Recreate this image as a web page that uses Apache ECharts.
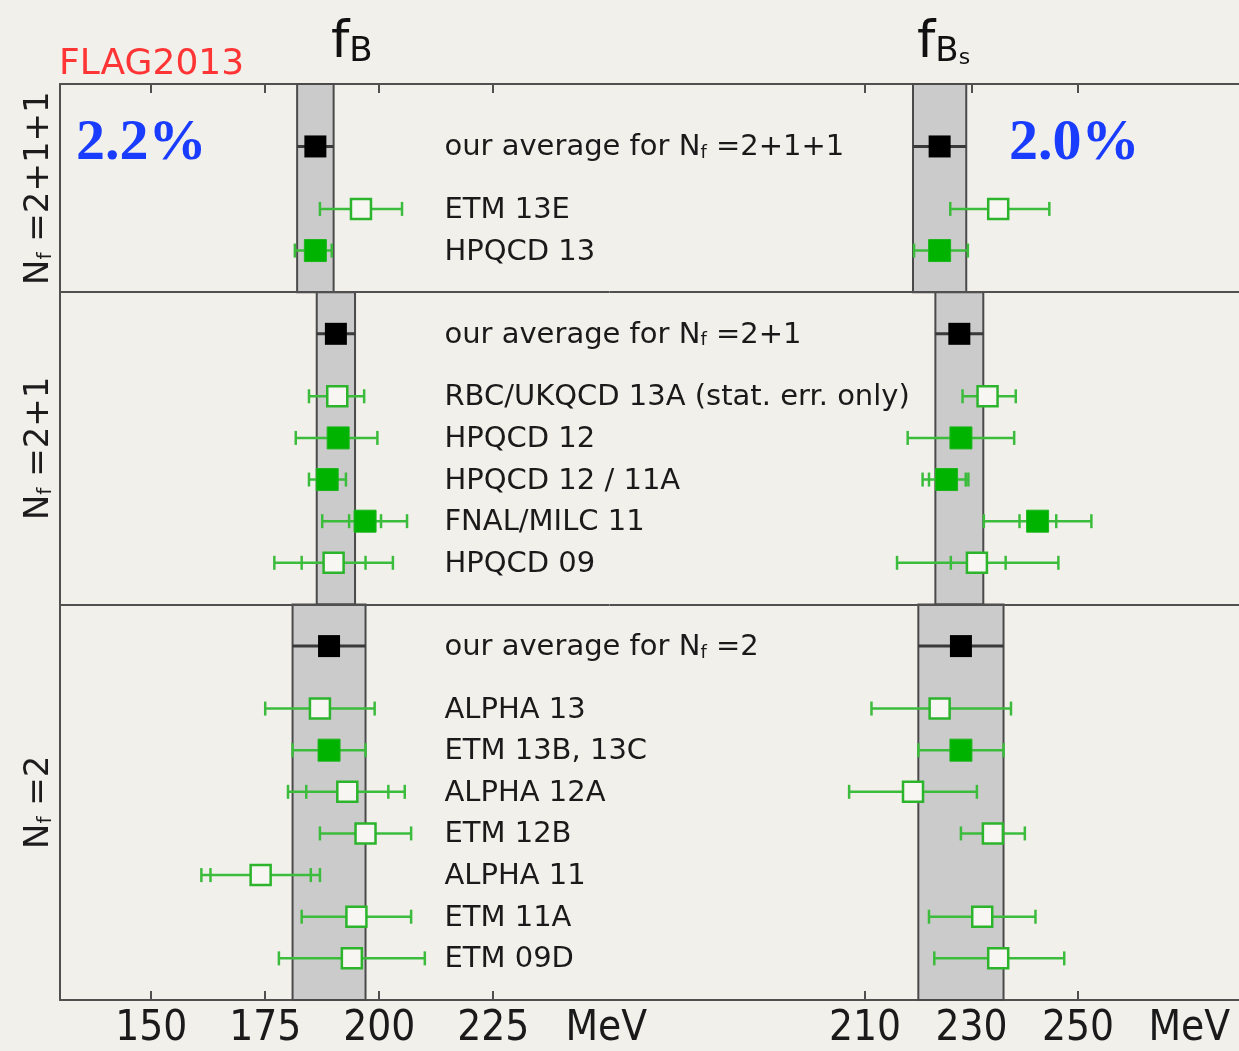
<!DOCTYPE html>
<html><head><meta charset="utf-8">
<script src="https://cdn.jsdelivr.net/npm/echarts@6/dist/echarts.min.js"></script>
<style>html,body{margin:0;padding:0;background:#f2f0eb}#c{width:1239px;height:1051px}</style>
</head><body><div id="c"></div>
<script>
// ---------- data ----------
const sectionLabels = ['N_f =2+1+1', 'N_f =2+1', 'N_f =2'];
const rowSection = [0,0,0, 1,1,1,1,1,1, 2,2,2,2,2,2,2,2];
const rowNames = ['our average for N_f =2+1+1','ETM 13E','HPQCD 13',
  'our average for N_f =2+1','RBC/UKQCD 13A (stat. err. only)','HPQCD 12','HPQCD 12 / 11A','FNAL/MILC 11','HPQCD 09',
  'our average for N_f =2','ALPHA 13','ETM 13B, 13C','ALPHA 12A','ETM 12B','ALPHA 11','ETM 11A','ETM 09D'];
// 0 = average, 1 = filled (used in average), 2 = open
const rowKind = [0,2,1, 0,2,1,1,1,2, 0,2,1,2,2,2,2,2];

const fB       = [186,196,186,   190.5,190.8,191,188.6,196.9,190,   189,187,189,193,197,174,195,194];
const fBLow    = [182,187,181.5, 186.3,184.6,181.7,184.6,187.5,177, 181,175,181,180,187,161,183,178];
const fBHigh   = [190,205,189.6, 194.7,196.7,199.6,192.7,206.1,203, 197,199,197,205.6,207,187,207,210];
const fBStatLow  = [null,null,null, null,null,null,null,193.4,183, null,null,null,184,null,163,null,null];
const fBStatHigh = [null,null,null, null,null,null,null,200.4,197, null,null,null,202,null,185,null,null];

const fBs      = [224,235,224,   227.7,233,228,225.3,242.4,231,   228,224,228,219,234,null,232,235];
const fBsLow   = [219,226,219.2, 223.2,228.3,218,220.8,232.3,216, 220,211.2,220,207,228,null,222,223];
const fBsHigh  = [229,244.6,229.3, 232.2,238.3,238,229.4,252.5,246.3, 236,237.4,236,231,240,null,242,247.4];
const fBsStatLow  = [null,null,null, null,null,null,222,239,226.1, null,null,null,null,null,null,null,null];
const fBsStatHigh = [null,null,null, null,null,null,228.9,245.9,236.4, null,null,null,null,null,null,null,null];

const fBTicks = [150,175,200,225];
const fBsTicks = [210,230,250];
const unitText = 'MeV';

// ---------- layout of rows (row units, top = 0) ----------
const rowY = [];
const sectionBounds = [];
let pos = 0, cur = -1, secStart = 0;
for (let i = 0; i < rowNames.length; i++) {
  if (rowSection[i] !== cur) {
    if (cur >= 0) sectionBounds.push([secStart, pos]);
    cur = rowSection[i]; secStart = pos;
    pos += (cur === 0 ? 1.5 : 1);
    rowY.push(pos); pos += 1.5;
  } else {
    rowY.push(pos); pos += 1;
  }
}
sectionBounds.push([secStart, pos]);
const yMax = pos;

const BG = '#f2f0eb';
const FRAME = '#505050';
const TXT = '#1a1a1a';

function makeRender(statLo, statHi) {
  return function (params, api) {
    const idx = api.value(4);
    const y = api.value(3);
    const c = api.coord([api.value(0), y]);
    const pl = api.coord([api.value(1), y]);
    const ph = api.coord([api.value(2), y]);
    const kind = rowKind[idx];
    const isAvg = kind === 0;
    const lineCol = isAvg ? '#3a3a3a' : '#3cbc3c';
    const ch = [];
    ch.push({type:'line', shape:{x1:pl[0], y1:c[1], x2:ph[0], y2:c[1]}, style:{stroke:lineCol, lineWidth: isAvg ? 3 : 2.5}});
    if (!isAvg) {
      const caps = [pl[0], ph[0]];
      if (statLo[idx] != null) caps.push(api.coord([statLo[idx], y])[0], api.coord([statHi[idx], y])[0]);
      caps.forEach(x => ch.push({type:'line', shape:{x1:x, y1:c[1]-7, x2:x, y2:c[1]+7}, style:{stroke:lineCol, lineWidth:2.5}}));
    }
    const s = 22;
    if (kind === 0) ch.push({type:'rect', shape:{x:c[0]-s/2, y:c[1]-s/2, width:s, height:s}, style:{fill:'#000'}});
    else if (kind === 1) ch.push({type:'rect', shape:{x:c[0]-s/2, y:c[1]-s/2, width:s, height:s}, style:{fill:'#00b300', stroke:'#1db51d', lineWidth:1}});
    else ch.push({type:'rect', shape:{x:c[0]-s/2+1, y:c[1]-s/2+1, width:s-2, height:s-2}, style:{fill:'#f7f6f2', stroke:'#2cb42c', lineWidth:2.5}});
    return {type:'group', children: ch};
  };
}

function buildData(v, lo, hi) {
  const out = [];
  for (let i = 0; i < v.length; i++) if (v[i] != null) out.push([v[i], lo[i], hi[i], rowY[i], i]);
  return out;
}
function bandData(lo, hi) {
  const out = [];
  sectionBounds.forEach((b, s) => {
    const i = rowSection.indexOf(s); // average row of the section
    out.push([{xAxis: lo[i], yAxis: b[0]}, {xAxis: hi[i], yAxis: b[1]}]);
  });
  return out;
}
const dividers = sectionBounds.slice(1).map(b => ({yAxis: b[0]}));

function subRich(str) {
  const k = str.indexOf('N_f');
  if (k < 0) return '{n|' + str + '}';
  const a = str.slice(0, k), b = str.slice(k + 3);
  return (a ? '{n|' + a + '}' : '') + '{n|N}{s|f}{n|' + b + '}';
}

const axisLineStyle = {show:true, onZero:false, lineStyle:{color:FRAME, width:2}};
function xAxes(grid, min, max, ticks, unitAt) {
  return [
    {type:'value', gridIndex:grid, position:'bottom', min, max,
     axisLine: axisLineStyle,
     axisTick: {show:true, inside:true, length:9, customValues: ticks, lineStyle:{color:FRAME, width:2}},
     axisLabel: {show:true, customValues: ticks.concat([unitAt]), margin:8,
       formatter: v => (Math.abs(v - unitAt) < 1e-6 ? unitText : String(v)),
       fontFamily:'DejaVu Sans Condensed', fontSize:42, color:'#1a1a1a'},
     splitLine:{show:false}},
    {type:'value', gridIndex:grid, position:'top', min, max,
     axisLine: axisLineStyle,
     axisTick: {show:true, inside:true, length:9, customValues: ticks, lineStyle:{color:FRAME, width:2}},
     axisLabel: {show:false}, splitLine:{show:false}}
  ];
}

const chart = echarts.init(document.getElementById('c'), null, {renderer:'canvas'});
const labelData = rowNames.map((n, i) => ({value:[214.3, rowY[i]], name:n}));
const titleRich = {
  f:{fontFamily:'DejaVu Sans', fontSize:52, fontWeight:'normal', color:'#111', verticalAlign:'bottom'},
  b:{fontFamily:'DejaVu Sans', fontSize:34, fontWeight:'normal', color:'#111', verticalAlign:'bottom'},
  s:{fontFamily:'DejaVu Sans', fontSize:22, fontWeight:'normal', color:'#111', verticalAlign:'bottom'}
};

const option = {
  backgroundColor: BG,
  animation: false,
  title: [
    {text:'FLAG2013', left:54, top:42, textStyle:{fontFamily:'DejaVu Sans', fontSize:36, fontWeight:'normal', color:'#ff3535'}},
    {text:'{f|f}{b|B}', left:326, top:12, textStyle:{fontWeight:'normal', rich:titleRich}},
    {text:'{f|f}{b|B}{s|s}', left:912, top:12, textStyle:{fontWeight:'normal', rich:titleRich}},
    {text:'2.2%', left:71, top:110, textStyle:{fontFamily:'Liberation Serif', fontWeight:'bold', fontSize:58, color:'#1a3cff'}},
    {text:'2.0%', left:1004, top:110, textStyle:{fontFamily:'Liberation Serif', fontWeight:'bold', fontSize:58, color:'#1a3cff'}}
  ],
  grid: [
    {left:60, top:84, width:549.5, height:916, containLabel:false, outerBoundsMode:'none'},
    {left:609.5, top:84, width:639.5, height:916, containLabel:false, outerBoundsMode:'none'}
  ],
  xAxis: [].concat(xAxes(0, 130, 250.5, fBTicks, 249.8), xAxes(1, 162, 282.1, fBsTicks, 270.9)),
  yAxis: [
    {type:'value', gridIndex:0, min:0, max:yMax, inverse:true, axisLine:axisLineStyle, axisTick:{show:false}, axisLabel:{show:false}, splitLine:{show:false}},
    {type:'value', gridIndex:1, min:0, max:yMax, inverse:true, axisLine:{show:false}, axisTick:{show:false}, axisLabel:{show:false}, splitLine:{show:false}}
  ],
  series: [
    {type:'line', xAxisIndex:0, yAxisIndex:0, data:[], silent:true,
     markArea:{silent:true, itemStyle:{color:'#cbcbcb', borderColor:'#4a4a4a', borderWidth:2}, data: bandData(fBLow, fBHigh)},
     markLine:{silent:true, symbol:'none', label:{show:false}, lineStyle:{color:FRAME, width:2, type:'solid'}, data: dividers}},
    {type:'line', xAxisIndex:2, yAxisIndex:1, data:[], silent:true,
     markArea:{silent:true, itemStyle:{color:'#cbcbcb', borderColor:'#4a4a4a', borderWidth:2}, data: bandData(fBsLow, fBsHigh)},
     markLine:{silent:true, symbol:'none', label:{show:false}, lineStyle:{color:FRAME, width:2, type:'solid'}, data: dividers}},
    {type:'custom', xAxisIndex:0, yAxisIndex:0, renderItem: makeRender(fBStatLow, fBStatHigh), data: buildData(fB, fBLow, fBHigh), clip:false, z:5},
    {type:'custom', xAxisIndex:2, yAxisIndex:1, renderItem: makeRender(fBsStatLow, fBsStatHigh), data: buildData(fBs, fBsLow, fBsHigh), clip:false, z:5},
    {type:'scatter', xAxisIndex:0, yAxisIndex:0, symbolSize:0, silent:true, data: labelData, z:6,
     label:{show:true, position:'right', distance:0, color:TXT, opacity:1,
       formatter: p => subRich(p.name),
       rich:{n:{fontFamily:'DejaVu Sans', fontSize:29, color:TXT, opacity:1, verticalAlign:'bottom', lineHeight:32},
             s:{fontFamily:'DejaVu Sans', fontSize:18, color:TXT, opacity:1, verticalAlign:'bottom', lineHeight:26}}}}
  ]
};
chart.setOption(option);

// rotated section labels on the left, centred on each section
const graphics = sectionBounds.map((b, s) => {
  const p = chart.convertToPixel({gridIndex:0}, [130, (b[0] + b[1]) / 2]);
  return {type:'text', x:36, y:p[1], rotation:Math.PI/2,
    style:{text: subRich(sectionLabels[s]), align:'center', verticalAlign:'middle',
      rich:{n:{fontFamily:'DejaVu Sans', fontSize:34, fill:'#1c1c1c', verticalAlign:'bottom', lineHeight:40},
            s:{fontFamily:'DejaVu Sans', fontSize:20, fill:'#1c1c1c', verticalAlign:'bottom', lineHeight:30}}}};
});
chart.setOption({graphic: graphics});
</script>
</body></html>
